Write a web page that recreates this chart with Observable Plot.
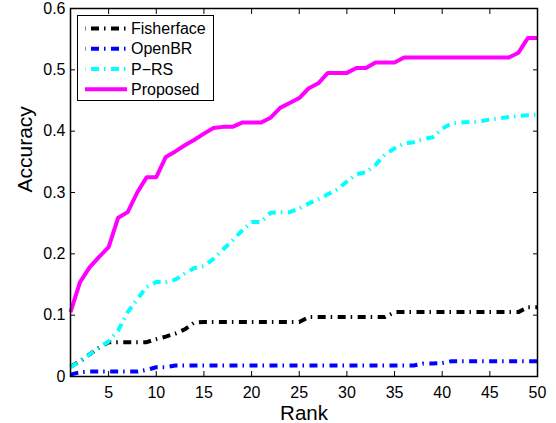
<!DOCTYPE html>
<html><head><meta charset="utf-8">
<script src="https://cdn.jsdelivr.net/npm/d3@7"></script>
<script src="https://cdn.jsdelivr.net/npm/@observablehq/plot@0.6"></script>
<style>html,body{margin:0;padding:0;background:#fff;} #chart svg{display:block;}</style>
</head><body><div id="chart"></div>
<script>
const ranks = [1,2,3,4,5,6,7,8,9,10,11,12,13,14,15,16,17,18,19,20,21,22,23,24,25,26,27,28,29,30,31,32,33,34,35,36,37,38,39,40,41,42,43,44,45,46,47,48,49,50];
const fisherface = [0.016,0.025,0.036,0.047,0.056,0.056,0.056,0.056,0.056,0.061,0.065,0.070,0.077,0.088,0.089,0.089,0.089,0.089,0.089,0.089,0.089,0.089,0.089,0.089,0.089,0.097,0.097,0.097,0.097,0.097,0.097,0.097,0.097,0.097,0.105,0.105,0.105,0.105,0.105,0.105,0.105,0.105,0.105,0.105,0.105,0.105,0.105,0.105,0.113,0.113];
const openbr = [0.003,0.007,0.008,0.008,0.008,0.008,0.008,0.008,0.011,0.015,0.015,0.018,0.018,0.018,0.018,0.018,0.018,0.018,0.018,0.018,0.018,0.018,0.018,0.018,0.018,0.018,0.018,0.018,0.018,0.018,0.018,0.018,0.018,0.018,0.018,0.018,0.018,0.021,0.021,0.022,0.025,0.025,0.025,0.025,0.025,0.025,0.025,0.025,0.025,0.025];
const prs = [0.015,0.025,0.036,0.047,0.057,0.075,0.105,0.126,0.146,0.154,0.154,0.158,0.168,0.177,0.180,0.192,0.207,0.222,0.238,0.252,0.252,0.267,0.268,0.268,0.274,0.282,0.289,0.297,0.305,0.318,0.330,0.333,0.345,0.362,0.372,0.380,0.382,0.387,0.390,0.404,0.413,0.414,0.415,0.416,0.419,0.421,0.423,0.425,0.426,0.427];
const proposed = [0.105,0.154,0.178,0.195,0.211,0.259,0.268,0.300,0.325,0.325,0.358,0.367,0.377,0.386,0.396,0.405,0.407,0.407,0.414,0.414,0.414,0.422,0.438,0.446,0.454,0.470,0.478,0.495,0.495,0.495,0.503,0.503,0.512,0.512,0.512,0.520,0.520,0.520,0.520,0.520,0.520,0.520,0.520,0.520,0.520,0.520,0.520,0.528,0.552,0.552];
const seriesNames = ["Fisherface", "OpenBR", "P\u2212RS", "Proposed"];
const seriesValues = [fisherface, openbr, prs, proposed];
const seriesColors = ["#000000", "#0000ff", "#00ffff", "#ff00ff"];
const xTicks = [5,10,15,20,25,30,35,40,45,50];
const yTicks = [0,0.1,0.2,0.3,0.4,0.5,0.6];
const yTickLabels = ["0","0.1","0.2","0.3","0.4","0.5","0.6"];
const xLabel = "Rank";
const yLabel = "Accuracy";

const font = "'Liberation Sans', Arial, Helvetica, sans-serif";
const dash = "8,5,1.5,5.5";
const lw = 4;

const lineMarks = seriesNames.map((name, s) => {
  const rows = ranks.map((r, i) => ({rank: r, acc: seriesValues[s][i]}));
  const solid = name === "Proposed";
  return Plot.line(rows, {
    x: "rank", y: "acc", stroke: seriesColors[s], strokeWidth: lw,
    strokeDasharray: solid ? null : dash,
    strokeLinecap: "butt", strokeLinejoin: "round"
  });
});

const chart = Plot.plot({
  width: 556, height: 423,
  marginLeft: 70, marginRight: 19, marginTop: 8, marginBottom: 47,
  style: {fontFamily: font, fontSize: "16px", background: "#fff", color: "#000", overflow: "visible"},
  x: {domain: [1, 50]},
  y: {domain: [0, 0.6]},
  marks: [
    ...lineMarks,
    Plot.frame({stroke: "#000", strokeWidth: 1.5}),
    Plot.axisX({ticks: xTicks, tickSize: 0, tickPadding: 10, fontSize: 16, label: null}),
    Plot.axisX({ticks: xTicks, tickSize: -5, tickFormat: () => "", label: null}),
    Plot.axisX({anchor: "top", ticks: xTicks, tickSize: -5, tickFormat: () => "", label: null}),
    Plot.axisY({ticks: yTicks, tickSize: 0, tickPadding: 5, fontSize: 16, label: null,
      tickFormat: d => yTickLabels[yTicks.indexOf(d)]}),
    Plot.axisY({ticks: yTicks, tickSize: -5, tickFormat: () => "", label: null}),
    Plot.axisY({anchor: "right", ticks: yTicks, tickSize: -5, tickFormat: () => "", label: null}),
    Plot.text([xLabel], {text: d => d, frameAnchor: "bottom", dy: 36.5, fontSize: 20.5, lineAnchor: "middle"}),
    Plot.text([yLabel], {text: d => d, frameAnchor: "left", dx: -45, rotate: -90, fontSize: 21, lineAnchor: "middle"})
  ]
});
document.getElementById("chart").appendChild(chart);

// legend
const svg = d3.select(chart);
const lg = svg.append("g").attr("transform", "translate(77,15)");
lg.append("rect").attr("x", 0.5).attr("y", 0.5).attr("width", 136).attr("height", 85)
  .style("fill", "#ffffff").style("stroke", "#000000").style("stroke-width", "1px");
seriesNames.forEach((name, i) => {
  const cy = 13.4 + i * 20.3;
  lg.append("line").attr("x1", 8).attr("x2", 50).attr("y1", cy).attr("y2", cy)
    .attr("stroke", seriesColors[i]).attr("stroke-width", lw)
    .attr("stroke-dasharray", name === "Proposed" ? null : dash)
    .attr("stroke-dashoffset", name === "Proposed" ? null : 14);
  lg.append("text").attr("x", 54).attr("y", cy).attr("dy", "0.36em")
    .attr("text-anchor", "start")
    .attr("font-family", font).attr("font-size", 16).attr("fill", "#000").text(name);
});
</script>
</body></html>
